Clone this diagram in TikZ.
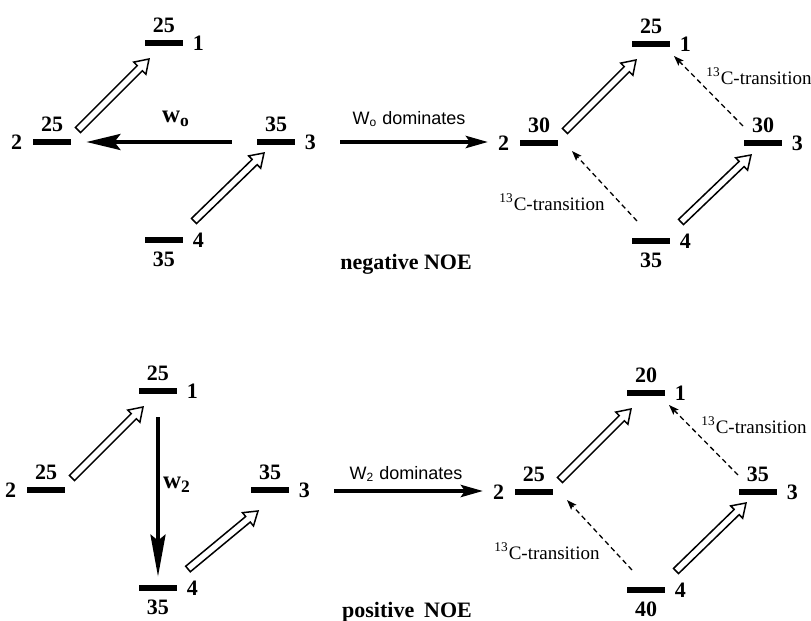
\documentclass[tikz,border=0pt]{standalone}
\usepackage{fontspec}
\setmainfont{Liberation Serif}
\newfontfamily\labelsans{Liberation Sans}
\usetikzlibrary{arrows.meta,calc}

\tikzset{
  lvl/.style={fill=black, minimum width=19pt, minimum height=3pt, inner sep=0pt},
  popup/.style={font=\fontsize{11}{13}\selectfont\bfseries, inner sep=1.5pt, label distance=1.5pt},
  popdn/.style={font=\fontsize{11}{13}\selectfont\bfseries, inner sep=1.5pt, label distance=2.5pt},
  idxr/.style={font=\fontsize{11}{13}\selectfont\bfseries, inner sep=1.5pt, label distance=3pt},
  idxl/.style={font=\fontsize{11}{13}\selectfont\bfseries, inner sep=1.5pt, label distance=3.5pt},
  hollow/.style={draw=black, fill=white, line width=0.75pt, line join=miter},
  bigarr/.style={line width=2pt},
  dasharr/.style={line width=0.65pt, dash pattern=on 2.5pt off 1.8pt,
    -{Stealth[length=5pt, width=3.6pt, inset=1pt]}},
  ctrans/.style={font=\fontsize{9.5}{11}\selectfont, inner sep=0pt},
  domlab/.style={font=\labelsans\fontsize{9}{11}\selectfont, inner sep=0pt},
  wlab/.style={font=\fontsize{12.5}{14}\selectfont\bfseries, inner sep=0pt},
  noe/.style={font=\fontsize{11}{13}\selectfont\bfseries, inner sep=0pt}
}

% open double-walled arrow between two named points
\newcommand{\hollowarrow}[2]{%
  \coordinate (hb) at ($(#2)!6.5pt!(#1)$);
  \draw[hollow] ($(#1)!1.8pt!90:(#2)$) -- ($(hb)!1.8pt!90:(#2)$)
    -- ($(hb)!4.3pt!90:(#2)$) -- (#2) -- ($(hb)!4.3pt!-90:(#2)$)
    -- ($(hb)!1.8pt!-90:(#2)$) -- ($(#1)!1.8pt!-90:(#2)$) -- cycle;}

\begin{document}
\begin{tikzpicture}[x=0.5pt, y=-0.5pt]
  \useasboundingbox (0,0) rectangle (811,621);
  % four level schemes
  \foreach \pn/\ox/\oy/\na/\nb/\nc/\nd/\ty in {
    A/52/142/25/25/35/35/11, B/539/143/25/30/30/35/12,
    C/46/490/25/25/35/35/21, D/534/492/20/25/35/40/11}
  {
    \begin{scope}[shift={(\ox,\oy)}]
      \node[lvl, label={[popup]above:\na}, label={[idxr]right:1}] (\pn1) at (112,-99) {};
      \node[lvl, label={[popup]above:\nb}, label={[idxl]left:2}] (\pn2) at (0,0) {};
      \node[lvl, label={[popup]above:\nc}, label={[idxr]right:3}] (\pn3) at (224,0) {};
      \node[lvl, label={[popdn]below:\nd}, label={[idxr]right:4}] (\pn4) at (112,98) {};
    \end{scope}
    \coordinate (\pn h1s) at ($(\pn2)+(26,-12)$);
    \coordinate (\pn h1e) at ($(\pn1)+(-15,16)$);
    \coordinate (\pn h3s) at ($(\pn4)+(30,-19)$);
    \coordinate (\pn h3e) at ($(\pn3)+(-12,\ty)$);
    \hollowarrow{\pn h1s}{\pn h1e}
    \hollowarrow{\pn h3s}{\pn h3e}
  }
  % 13C transitions on the right
  \foreach \pn in {B,D}
  {
    \coordinate (\pn d1s) at ($(\pn3)+(-20,-17)$);
    \coordinate (\pn d1e) at ($(\pn1)+(23,12)$);
    \coordinate (\pn d2s) at ($(\pn4)+(-14,-20)$);
    \coordinate (\pn d2e) at ($(\pn2)+(33,8)$);
    \draw[dasharr] (\pn d1s) -- (\pn d1e);
    \draw[dasharr] (\pn d2s) -- (\pn d2e);
    \node[ctrans] (\pn ct1) at ($(\pn3)+(-4,-67)$) {\textsuperscript{13}C-transition};
    \node[ctrans] (\pn ct2) at ($(\pn2)+(13,59)$) {\textsuperscript{13}C-transition};
  }
  % relaxation paths
  \coordinate (w0s) at ($(A3.west)+(-25,0)$);
  \coordinate (w0e) at ($(A2.east)+(15,0)$);
  \draw[bigarr, -{Stealth[length=17pt, width=8pt, inset=3pt]}] (w0s) -- (w0e);
  \node[wlab] (w0) at (176,119) {w\textsubscript{o}};
  \coordinate (w2s) at ($(C1.south)+(0,23)$);
  \coordinate (w2e) at ($(C4.north)+(0,-8)$);
  \draw[bigarr, -{Stealth[length=21pt, width=7.5pt, inset=3pt]}] (w2s) -- (w2e);
  \node[wlab] (w2) at (177,485) {w\textsubscript{2}};
  % middle arrows
  \coordinate (domAs) at (340,142);
  \coordinate (domAe) at (488,142);
  \draw[bigarr, -{Stealth[length=11pt, width=6pt, inset=2pt]}] (domAs) -- (domAe);
  \node[domlab] (domA) at (409,119) {W\textsubscript{o} dominates};
  \node[noe] (noeA) at (406,264) {negative NOE};
  \coordinate (domCs) at (334,491);
  \coordinate (domCe) at (483,491);
  \draw[bigarr, -{Stealth[length=11pt, width=6pt, inset=2pt]}] (domCs) -- (domCe);
  \node[domlab] (domC) at (406,474) {W\textsubscript{2} dominates};
  \node[noe] (noeC) at (407,612) {positive\hspace{0.45em}NOE};
\end{tikzpicture}
\end{document}
